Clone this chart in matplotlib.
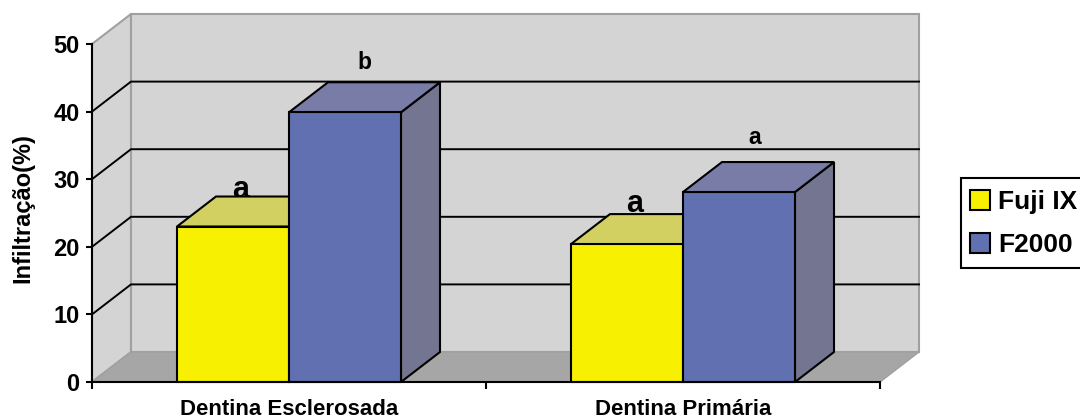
import numpy as np
import matplotlib
matplotlib.use("Agg")
import matplotlib.pyplot as plt
from matplotlib.patches import Polygon, Patch, Rectangle

plt.rcParams['font.family'] = ['Liberation Sans', 'DejaVu Sans']
plt.rcParams['font.weight'] = 'bold'

categories = ['Dentina Esclerosada', 'Dentina Primária']
series_names = ['Fuji IX', 'F2000']
fuji = [23.0, 20.4]
f2000 = [39.9, 28.1]
fuji_letters = ['a', 'a']
f2000_letters = ['b', 'a']
y_ticks = [0, 10, 20, 30, 40, 50]

W, H = 1080, 420
YELLOW = '#f7f000'
BLUE = '#6170b0'
YELLOW_TOP = '#d2d060'
BLUE_TOP = '#7a7ca8'
BLUE_SIDE = '#747590'
YELLOW_SIDE = '#a5a040'
WALL = '#d4d4d4'
FLOOR = '#a6a6a6'
WALL_EDGE = '#a0a0a0'

fig = plt.figure(figsize=(W / 100, H / 100), dpi=100)
ax = fig.add_axes([92 / W, 1 - 382 / H, (880 - 92) / W, (382 - 44) / H])
ax.set_xlim(0, len(categories))
ax.set_ylim(0, 50)
ax.patch.set_visible(False)

# depth of the fake 3d box, in data units
dx = 39 / 394
dy = 30 / 6.76


def face(pts, color, edge='black', lw=1.5, z=2):
    ax.add_patch(Polygon(pts, closed=True, facecolor=color, edgecolor=edge,
                         linewidth=lw, zorder=z, clip_on=False, joinstyle='miter'))


n = len(categories)
# walls and floor
face([(0, 0), (dx, dy), (dx, 50 + dy), (0, 50)], WALL, WALL_EDGE, 1.5, 1)
face([(dx, dy), (n + dx, dy), (n + dx, 50 + dy), (dx, 50 + dy)], WALL, WALL_EDGE, 1.5, 1)
face([(0, 0), (n, 0), (n + dx, dy), (dx, dy)], FLOOR, WALL_EDGE, 1, 1.5)

for v in y_ticks[1:-1]:
    ax.plot([0, dx, n + dx], [v, v + dy, v + dy], color='black', lw=1.4, zorder=1.7,
            clip_on=False, solid_joinstyle='miter')

# bars
bar_w = 112 / 394
gap = 85 / 394


def bar3d(x, v, front, top, side):
    face([(x + bar_w, 0), (x + bar_w + dx, dy), (x + bar_w + dx, v + dy), (x + bar_w, v)], side, z=3)
    face([(x, v), (x + dx, v + dy), (x + bar_w + dx, v + dy), (x + bar_w, v)], top, z=3)
    face([(x, 0), (x + bar_w, 0), (x + bar_w, v), (x, v)], front, z=3)


label_style = dict(textcoords='offset pixels', ha='center', va='baseline', annotation_clip=False)
offsets_fuji = [(8, 29), (8, 32)]
offsets_f2000 = [(19, 43), (16, 48)]
for i in range(n):
    x0 = i + gap
    x1 = x0 + bar_w
    bar3d(x0, fuji[i], YELLOW, YELLOW_TOP, YELLOW_SIDE)
    bar3d(x1, f2000[i], BLUE, BLUE_TOP, BLUE_SIDE)
    ax.annotate(fuji_letters[i], (x0 + bar_w / 2, fuji[i]), xytext=offsets_fuji[i],
                fontsize=22, zorder=2.5, **label_style)
    ax.annotate(f2000_letters[i], (x1 + bar_w / 2, f2000[i]), xytext=offsets_f2000[i],
                fontsize=16.5, zorder=2.5, **label_style)

# axes
for s in ['top', 'right']:
    ax.spines[s].set_visible(False)
for s in ['left', 'bottom']:
    ax.spines[s].set_linewidth(1.5)
    ax.spines[s].set_zorder(4)
ax.set_yticks(y_ticks)
ax.set_xticks(range(n + 1))
ax.set_xticklabels([])
ax.set_xticks(np.arange(n) + 0.5, labels=categories, minor=True)
ax.tick_params(axis='x', which='minor', length=0, pad=12, labelsize=16)
ax.tick_params(axis='x', which='major', length=5, width=1.5)
ax.tick_params(axis='y', length=4, width=1.5, labelsize=17, pad=5)
ax.set_ylabel('Infiltração(%)', fontsize=17, fontweight='bold', labelpad=13.5, y=0.515)

# legend frame runs past the right edge, as in the original
fig.add_artist(Rectangle((961 / W, 1 - 268 / H), 130 / W, 90 / H, transform=fig.transFigure,
                         facecolor='white', edgecolor='black', linewidth=1.5, zorder=1))
handles = [Patch(facecolor=YELLOW, edgecolor='black', linewidth=1.5),
           Patch(facecolor=BLUE, edgecolor='black', linewidth=1.5)]
leg = fig.legend(handles, series_names, loc='upper left',
                 bbox_to_anchor=(970 / W, 1 - 190 / H), bbox_transform=fig.transFigure,
                 frameon=False, fontsize=19,
                 handlelength=0.76, handleheight=0.76, handletextpad=0.3, labelspacing=0.72,
                 borderpad=0, borderaxespad=0)
leg.set_zorder(2)

fig.savefig('out.png', dpi=100)
